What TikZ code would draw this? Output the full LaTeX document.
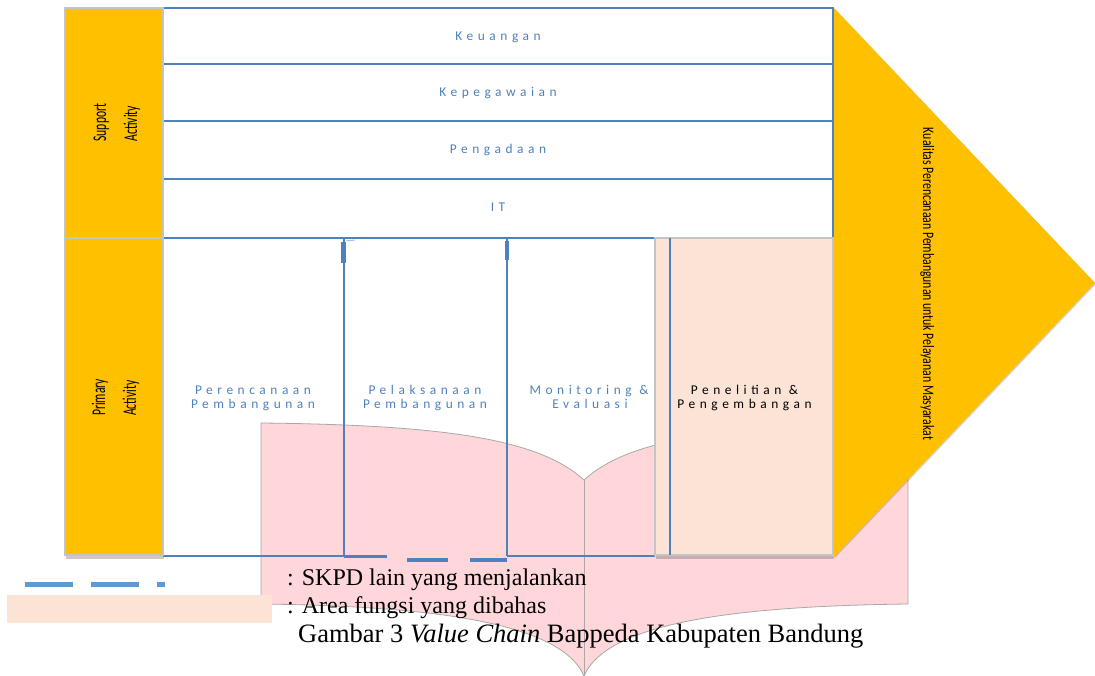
\documentclass[tikz,border=0pt]{standalone}
\usepackage{fontspec}
\usepackage{graphicx}
\setmainfont{Liberation Serif}
\newfontfamily\spaced{Carlito}[LetterSpace=34]
\newfontfamily\narrow{Carlito}
\usetikzlibrary{shadows}
\definecolor{vcorange}{HTML}{FFC000}
\definecolor{vcblue}{HTML}{4F81BD}
\definecolor{vcdash}{HTML}{5B9BD5}
\definecolor{vcpink}{HTML}{FFD6DA}
\definecolor{vcpeach}{HTML}{FBE4D6}
\definecolor{vcgray}{HTML}{C4C4C4}
\definecolor{vcbookedge}{HTML}{A8A8A8}
\begin{document}
\begin{tikzpicture}[x=1pt,y=-1pt,
  vcline/.style={draw=vcblue, line width=1.2pt},
  rowtext/.style={font=\spaced\fontsize{13.4}{14}\selectfont, text=vcblue, inner sep=0pt, anchor=base},
  blacktext/.style={rowtext, text=black},
  sidebox/.style={fill=vcorange, draw=vcgray, line width=1.5pt},
  sidelabel/.style={rotate=90, anchor=base west, inner sep=0pt, font=\narrow\fontsize{19.4}{23}\selectfont},
  legendtext/.style={anchor=base west, inner sep=0pt, font=\fontsize{24}{28}\selectfont},
  softshadow/.style={drop shadow={shadow xshift=1pt, shadow yshift=-4pt, opacity=0.3, fill=black!70}},
]
\useasboundingbox (0,0) rectangle (1095,676);

% open book shape behind everything
\path[fill=vcpink, draw=vcbookedge, line width=0.8pt]
  (261,423) .. controls (450,425) and (540,440) .. (584,480)
  .. controls (628,440) and (718,425) .. (908,423) -- (908,604)
  .. controls (748,606) and (608,620) .. (584,676)
  .. controls (560,620) and (420,606) .. (261,604) -- cycle;
\coordinate (booktop) at (584,480);
\coordinate (bookbot) at (584,676);
\draw[vcbookedge, line width=0.8pt] (booktop) -- (bookbot);

% support activities area
\fill[white] (163,8) rectangle (833,238);
\draw[vcline] (163,8) -- (833,8) -- (833,238);
\foreach \yy in {64,121,179} \draw[vcline] (163,\yy) -- (833,\yy);
\node[rowtext] (keu) at (498,40.7) {Keuangan};
\node[rowtext] (kep) at (498,97) {Kepegawaian};
\node[rowtext] (peng) at (498,154) {Pengadaan};
\node[rowtext] (it) at (498,212) {IT};

% primary activities lines
\draw[vcblue, line width=2pt] (163,238) -- (655,238);
\draw[vcblue, line width=1.5pt] (344,238) -- (344,556);
\draw[vcblue, line width=1.5pt] (507,238) -- (507,556);
\draw[vcblue, line width=4.5pt] (343.5,242) -- (343.5,263);
\draw[vcblue, line width=4pt] (507,241) -- (507,260);
\draw[vcblue!50, line width=1pt] (346,241) -- (355,240);
\draw[vcblue, line width=2pt] (163,555.5) -- (344,555.5);
\draw[vcblue, line width=3pt] (344,556.5) -- (387,556.5);
\draw[vcblue, line width=3.5pt] (407,560) -- (448,560);
\draw[vcblue, line width=3.5pt] (470,560) -- (507,560);
\draw[vcblue, line width=2pt] (507,555.5) -- (655,555.5);

% primary activity texts
\node[rowtext] (p1a) at (253,394.3) {Perencanaan};
\node[rowtext] (p1b) at (253,408) {Pembangunan};
\node[rowtext] (p2a) at (425,394.3) {Pelaksanaan};
\node[rowtext] (p2b) at (425,408) {Pembangunan};
\node[rowtext] (p3a) at (589,394.3) {Monitoring \&};
\node[rowtext] (p3b) at (590,408) {Evaluasi};

% side boxes
\path[sidebox] (65,8) rectangle (163,238);
\path[sidebox, softshadow] (65,238) rectangle (163,555);
\node[sidelabel] (sup1) at (106,141.7) {\resizebox{37.7pt}{\height}{Support}};
\node[sidelabel] (sup2) at (137,141.7) {\resizebox{35.7pt}{\height}{Activity}};
\node[sidelabel] (pri1) at (105,416) {\resizebox{36.7pt}{\height}{Primary}};
\node[sidelabel] (pri2) at (136,416) {\resizebox{35.3pt}{\height}{Activity}};

% research & development box
\path[fill=vcpeach, draw=vcgray, line width=1.5pt, softshadow] (655,238) rectangle (833,555);
\draw[vcblue, line width=1.5pt] (670,238) -- (670,555);
\node[blacktext] (rd1) at (744.5,394.3) {Penelitian \&};
\node[blacktext] (rd2) at (744.5,408) {Pengembangan};

% margin arrow
\path[fill=vcorange, drop shadow={shadow xshift=1pt, shadow yshift=-1pt, opacity=0.3, fill=black!60}]
  (834,8) -- (1095,283) -- (834,557) -- cycle;
\node[rotate=-90, anchor=base, inner sep=0pt] (margin) at (923,284)
  {\resizebox{312pt}{\height}{\narrow\fontsize{16}{19}\selectfont Kualitas Perencanaan Pembangunan untuk Pelayanan Masyarakat}};

% legend
\draw[vcdash, line width=5.5pt] (25,584.5) -- (73,584.5);
\draw[vcdash, line width=5.5pt] (91,584.5) -- (139,584.5);
\draw[vcdash, line width=5.5pt] (157,584.5) -- (165,584.5);
\fill[vcpeach] (7,595) rectangle (272,623);
\node[legendtext] (leg1) at (287,585.7) {: SKPD lain yang menjalankan};
\node[legendtext] (leg2) at (287,613) {: Area fungsi yang dibahas};
\node[legendtext, font=\fontsize{26.5}{30}\selectfont] (caption) at (298,642) {Gambar 3 \textit{Value Chain} Bappeda Kabupaten Bandung};
\end{tikzpicture}
\end{document}
